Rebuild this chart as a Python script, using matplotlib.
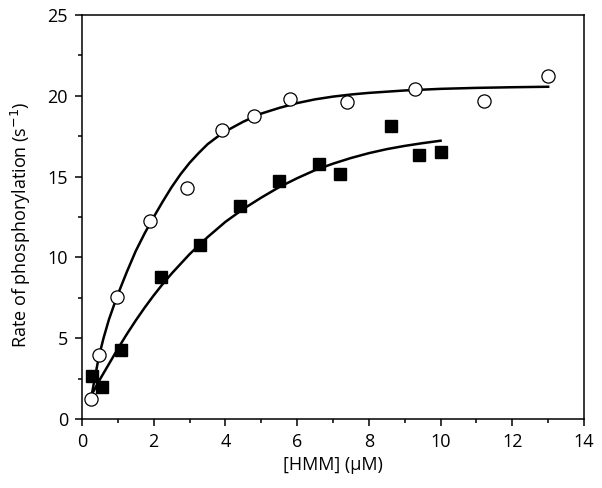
import matplotlib
matplotlib.use("Agg")
import matplotlib.pyplot as plt
from matplotlib.ticker import MultipleLocator

# Open circles data
circ_x = [0.25, 0.47, 0.98, 1.90, 2.92, 3.91, 4.81, 5.80, 7.40, 9.30, 11.20, 12.99]
circ_y = [1.24, 3.96, 7.57, 12.25, 14.31, 17.88, 18.77, 19.80, 19.60, 20.42, 19.70, 21.20]

# Filled squares data
sq_x = [0.27, 0.55, 1.09, 2.20, 3.29, 4.41, 5.50, 6.61, 7.20, 8.61, 9.40, 10.00]
sq_y = [2.68, 1.96, 4.29, 8.77, 10.77, 13.16, 14.73, 15.78, 15.16, 18.15, 16.34, 16.54]

# Fitted curves
fit_c_x = [0.28, 0.35, 0.47, 0.60, 0.75, 0.98, 1.25, 1.5, 1.75, 2.0, 2.25, 2.5, 2.75, 3.0,
           3.25, 3.5, 3.75, 4.0, 4.5, 5.0, 5.5, 6.0, 6.5, 7.0, 7.5, 8.0, 9.0, 10.0, 11.0, 12.0, 13.0]
fit_c_y = [1.60, 2.45, 3.85, 5.00, 6.15, 7.60, 9.10, 10.40, 11.50, 12.50, 13.45, 14.35, 15.15, 15.85,
           16.45, 17.00, 17.42, 17.80, 18.40, 18.90, 19.25, 19.55, 19.78, 19.95, 20.08, 20.18, 20.33, 20.43, 20.49, 20.53, 20.56]

fit_s_x = [0.29, 0.5, 0.75, 1.0, 1.25, 1.5, 1.75, 2.0, 2.25, 2.5, 2.75, 3.0, 3.5, 4.0, 4.5,
           5.0, 5.5, 6.0, 6.5, 7.0, 7.5, 8.0, 8.5, 9.0, 9.5, 10.0]
fit_s_y = [1.59, 2.45, 3.40, 4.35, 5.25, 6.10, 6.90, 7.65, 8.35, 9.00, 9.60, 10.20, 11.25, 12.20, 13.00,
           13.70, 14.35, 14.90, 15.40, 15.80, 16.15, 16.45, 16.70, 16.90, 17.07, 17.22]

plt.rcParams['font.family'] = ['Open Sans', 'DejaVu Sans']

fig = plt.figure(figsize=(6.02, 4.88), dpi=100)
ax = fig.add_axes([82/602, 1-419/488, (584-82)/602, (419-15)/488])

ax.plot(fit_c_x, fit_c_y, color='black', lw=1.8, zorder=2, solid_joinstyle='round')
ax.plot(fit_s_x, fit_s_y, color='black', lw=1.8, zorder=2, solid_joinstyle='round')
ax.plot(circ_x, circ_y, 'o', ms=9.5, mfc='white', mec='black', mew=0.9, zorder=3)
ax.plot(sq_x, sq_y, 's', ms=9, mfc='black', mec='black', zorder=3)

ax.set_xlim(0, 14)
ax.set_ylim(0, 25)
ax.xaxis.set_major_locator(MultipleLocator(2))
ax.xaxis.set_minor_locator(MultipleLocator(1))
ax.yaxis.set_major_locator(MultipleLocator(5))
ax.yaxis.set_minor_locator(MultipleLocator(2.5))
ax.tick_params(which='both', direction='out', top=False, right=False, width=1.1, labelsize=13)
ax.tick_params(which='major', length=5)
ax.tick_params(which='minor', length=3)
ax.tick_params(axis='x', which='major', pad=5)
ax.tick_params(axis='y', which='major', pad=5)
for s in ax.spines.values():
    s.set_linewidth(1.1)

ax.set_xlabel('[HMM] (\u03bcM)', fontsize=13)
ax.set_ylabel('Rate of phosphorylation (s$^{-1}$)', fontsize=13)
ax.xaxis.set_label_coords(0.5, (419-456)/404)
ax.yaxis.set_label_coords((33-82)/502, (419-225)/404)

fig.savefig('out.png', dpi=100)
